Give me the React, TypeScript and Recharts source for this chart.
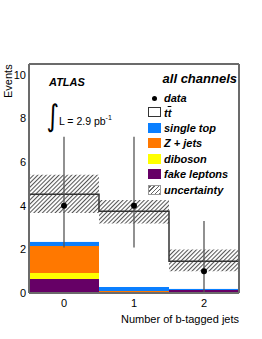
import {
  ComposedChart,
  Bar,
  Line,
  Scatter,
  ErrorBar,
  XAxis,
  YAxis,
} from "recharts";

// b-tag multiplicity bins
const bins = ["0", "1", "2"];
const fakeLeptons = [0.64, 0.02, 0.14];
const diboson = [0.28, 0.0, 0.0];
const zJets = [1.24, 0.07, 0.0];
const singleTop = [0.19, 0.19, 0.06];
const ttbar = [2.18, 3.47, 1.26];
const uncLow = [3.67, 3.19, 1.0];
const uncHigh = [5.42, 4.26, 1.99];

// observed data with asymmetric (Poisson) errors
const dataX = [0, 1, 2];
const dataY = [4, 4, 1];
const dataErrDown = [1.91, 1.91, 1.0];
const dataErrUp = [3.16, 3.16, 2.3];

const yTicks = [0, 2, 4, 6, 8, 10];
const edges = [-0.5, 0.5, 1.5, 2.5];

const FRAME = "#6b6b6b";
const FONT = "'Liberation Sans', Arial, Helvetica, sans-serif";

const chartData = bins.map((b, i) => ({
  bin: b,
  fake: fakeLeptons[i],
  diboson: diboson[i],
  zjets: zJets[i],
  stop: singleTop[i],
  ttbar: ttbar[i],
  uncBase: uncLow[i],
  uncBand: uncHigh[i] - uncLow[i],
}));

const totals = bins.map(
  (_, i) => fakeLeptons[i] + diboson[i] + zJets[i] + singleTop[i] + ttbar[i]
);
const stepData = edges.map((x, i) => ({ x, y: totals[Math.min(i, totals.length - 1)] }));

const pointData = dataX.map((x, i) => ({
  x,
  y: dataY[i],
  err: [dataErrDown[i], dataErrUp[i]],
}));

const legendItems = [
  { label: "single top", color: "#0a7fff" },
  { label: "Z + jets", color: "#ff7800" },
  { label: "diboson", color: "#ffff00" },
  { label: "fake leptons", color: "#660066" },
];

const legText: React.CSSProperties = {
  position: "absolute",
  left: 164,
  fontFamily: FONT,
  fontWeight: "bold",
  fontStyle: "italic",
  fontSize: 11,
  lineHeight: "12px",
  whiteSpace: "nowrap",
};

function Swatch({ top, color, hatch }: { top: number; color?: string; hatch?: boolean }) {
  return (
    <div
      style={{
        position: "absolute",
        left: 148,
        top,
        width: 13,
        height: 10,
        background: hatch
          ? "repeating-linear-gradient(-45deg, #666 0 1px, #fff 1px 3px)"
          : color ?? "#fff",
        border: color ? "none" : hatch ? "1px solid #999" : "1px solid #333",
        boxSizing: "border-box",
      }}
    />
  );
}

export default function App() {
  return (
    <div style={{ position: "absolute", left: 0, top: 0, width: 262, height: 339, background: "#fff" }}>
      <ComposedChart
        width={262}
        height={339}
        data={chartData}
        margin={{ top: 64, right: 23, bottom: 0, left: 0 }}
        barCategoryGap={0}
        barGap={0}
      >
        <defs>
          <pattern
            id="hatch"
            patternUnits="userSpaceOnUse"
            width={3}
            height={3}
            patternTransform="rotate(45)"
          >
            <line x1={0.5} y1={0} x2={0.5} y2={3} stroke="#555" strokeWidth={1.1} />
          </pattern>
        </defs>
        <XAxis
          dataKey="bin"
          height={46}
          axisLine={{ stroke: FRAME, strokeWidth: 2 }}
          tickLine={false}
          tickSize={4}
          tickMargin={2}
          tick={{ fill: "#000", fontSize: 11, fontFamily: FONT }}
        />
        <XAxis
          xAxisId="bm"
          dataKey="bin"
          mirror
          axisLine={false}
          tick={false}
          tickSize={6}
          tickLine={{ stroke: FRAME, strokeWidth: 1.2 }}
        />
        <XAxis
          xAxisId="top"
          dataKey="bin"
          orientation="top"
          mirror
          tick={false}
          tickSize={6}
          axisLine={{ stroke: FRAME, strokeWidth: 2 }}
          tickLine={{ stroke: FRAME, strokeWidth: 1.2 }}
        />
        <XAxis xAxisId="num" type="number" dataKey="x" domain={[-0.5, 2.5]} hide allowDataOverflow />
        <YAxis
          width={29}
          domain={[0, 10.5]}
          ticks={yTicks}
          axisLine={{ stroke: FRAME, strokeWidth: 2 }}
          tickLine={false}
          tickSize={0}
          tickMargin={3}
          tick={{ fill: "#000", fontSize: 11, fontFamily: FONT }}
        />
        <YAxis
          yAxisId="lm"
          domain={[0, 10.5]}
          ticks={yTicks}
          mirror
          axisLine={false}
          tick={false}
          tickSize={5}
          tickLine={{ stroke: FRAME, strokeWidth: 1.2 }}
        />
        <YAxis
          yAxisId="r"
          orientation="right"
          domain={[0, 10.5]}
          ticks={yTicks}
          mirror
          tick={false}
          tickSize={5}
          axisLine={{ stroke: FRAME, strokeWidth: 2 }}
          tickLine={{ stroke: FRAME, strokeWidth: 1.2 }}
        />
        <Bar dataKey="fake" stackId="mc" fill="#660066" isAnimationActive={false} />
        <Bar dataKey="diboson" stackId="mc" fill="#ffff00" isAnimationActive={false} />
        <Bar dataKey="zjets" stackId="mc" fill="#ff7800" isAnimationActive={false} />
        <Bar dataKey="stop" stackId="mc" fill="#0a7fff" isAnimationActive={false} />
        <Bar dataKey="ttbar" stackId="mc" fill="#ffffff" isAnimationActive={false} />
        <Bar xAxisId="top" dataKey="uncBase" stackId="unc" fill="none" isAnimationActive={false} />
        <Bar xAxisId="top" dataKey="uncBand" stackId="unc" fill="url(#hatch)" isAnimationActive={false} />
        <Line
          xAxisId="num"
          data={stepData}
          dataKey="y"
          type="stepAfter"
          stroke="#333"
          strokeWidth={1.5}
          dot={false}
          activeDot={false}
          isAnimationActive={false}
        />
        <Scatter
          xAxisId="num"
          data={pointData}
          dataKey="y"
          fill="#000"
          shape={(p: any) => <circle cx={p.cx} cy={p.cy} r={3} fill="#000" />}
          isAnimationActive={false}
        >
          <ErrorBar dataKey="err" direction="y" width={0} stroke="#555" strokeWidth={1.3} />
        </Scatter>
      </ComposedChart>

      {/* axis titles */}
      <div
        style={{
          position: "absolute",
          left: 2,
          top: 64,
          fontFamily: FONT,
          fontSize: 11,
          lineHeight: "12px",
          writingMode: "vertical-rl",
          transform: "rotate(180deg)",
          transformOrigin: "center",
          height: 34,
          textAlign: "right",
        }}
      >
        Events
      </div>
      <div
        style={{
          position: "absolute",
          right: 23,
          top: 313,
          fontFamily: FONT,
          fontSize: 11,
          lineHeight: "12px",
          whiteSpace: "nowrap",
        }}
      >
        Number of b-tagged jets
      </div>

      {/* annotations */}
      <div style={{ ...legText, left: 49, top: 76, fontSize: 11 }}>ATLAS</div>
      <div
        style={{
          position: "absolute",
          left: 45,
          top: 98,
          fontFamily: "'DejaVu Sans', sans-serif",
          fontSize: 30,
          lineHeight: "36px",
          transform: "scaleX(0.8)",
        }}
      >
        ∫
      </div>
      <div
        style={{
          position: "absolute",
          left: 59,
          top: 112,
          fontFamily: FONT,
          fontSize: 10.5,
          lineHeight: "12px",
          whiteSpace: "nowrap",
        }}
      >
        L = 2.9 pb<sup style={{ fontSize: 7, verticalAlign: "5px" }}>-1</sup>
      </div>

      {/* legend */}
      <div style={{ ...legText, left: "auto", right: 25, top: 72, fontSize: 13, lineHeight: "14px" }}>
        all channels
      </div>
      <div
        style={{
          position: "absolute",
          left: 152,
          top: 95.5,
          width: 5,
          height: 5,
          borderRadius: "50%",
          background: "#000",
        }}
      />
      <div style={{ ...legText, top: 92 }}>data</div>
      <Swatch top={107} />
      <div style={{ ...legText, top: 107 }}>
        t<span style={{ textDecoration: "overline" }}>t</span>
      </div>
      {legendItems.map((item, i) => (
        <div key={item.label}>
          <Swatch top={123 + i * 15.4} color={item.color} />
          <div style={{ ...legText, top: 122 + i * 15.4 }}>{item.label}</div>
        </div>
      ))}
      <Swatch top={184.6} hatch />
      <div style={{ ...legText, top: 184 }}>uncertainty</div>
    </div>
  );
}
